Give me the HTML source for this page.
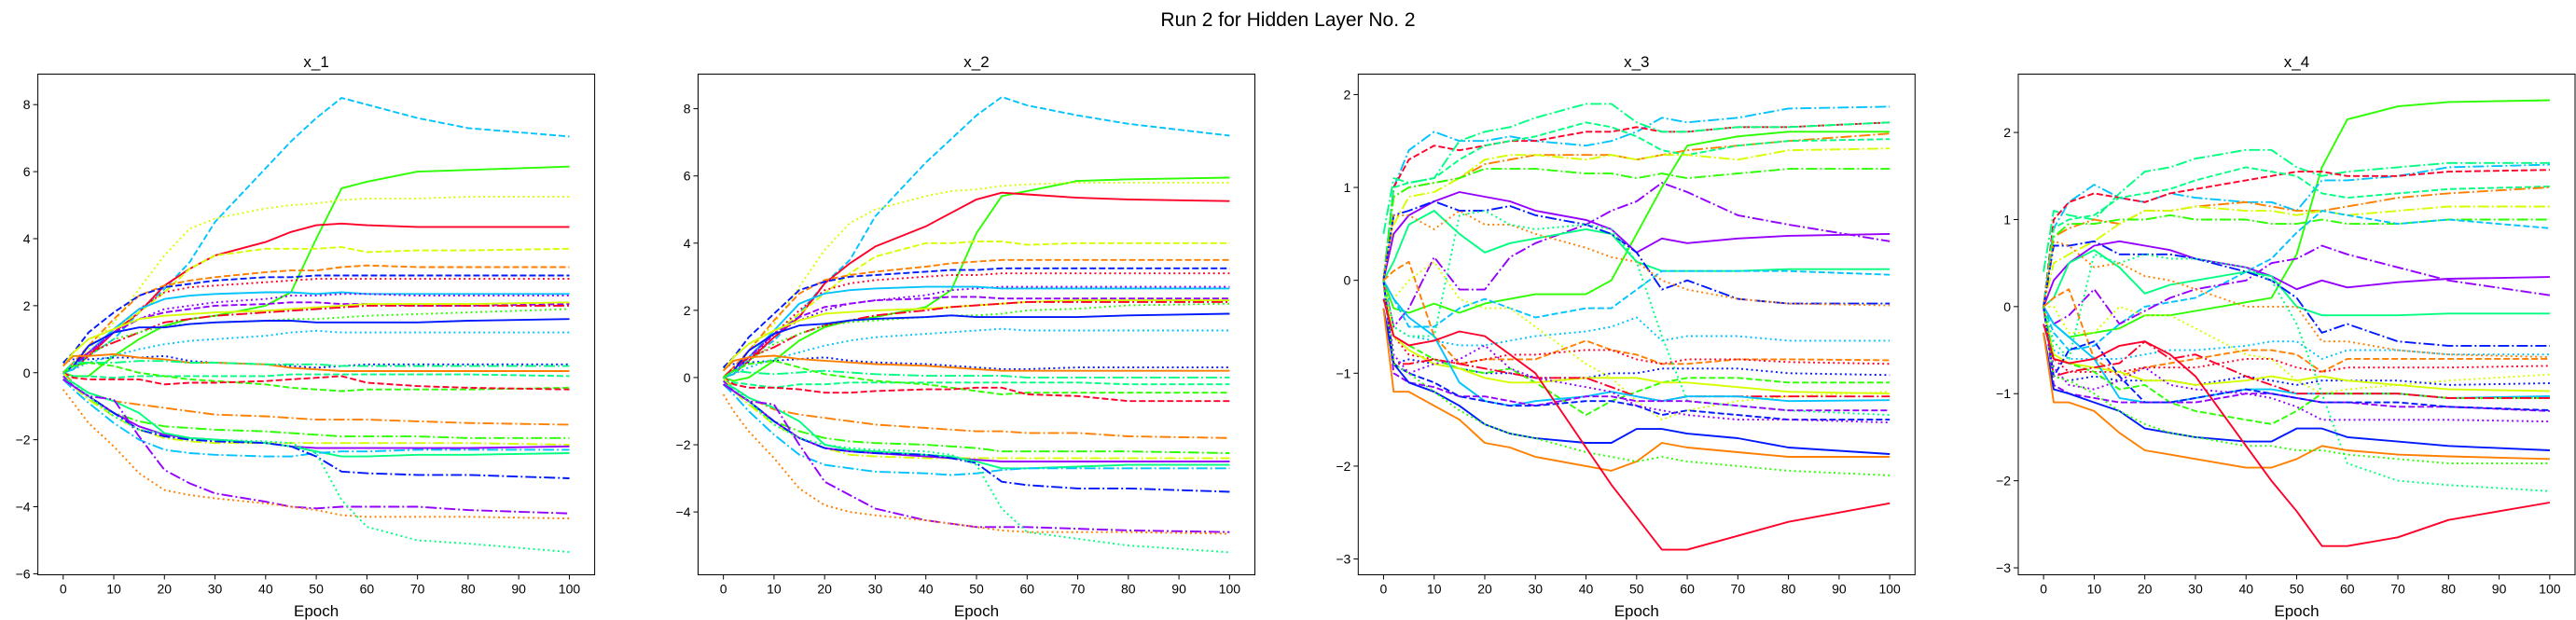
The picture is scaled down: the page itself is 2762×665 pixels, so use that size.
<!DOCTYPE html>
<html><head><meta charset="utf-8"><style>
html,body{margin:0;padding:0;background:#fff;}
svg{display:block;font-family:"Liberation Sans","DejaVu Sans",sans-serif;}
</style></head><body>
<svg id="fig" width="2762" height="665" viewBox="0 0 2762 665" xmlns="http://www.w3.org/2000/svg">
<rect width="2762" height="665" fill="#fff"/>
<text x="1381" y="28" font-size="21" text-anchor="middle" fill="#000">Run 2 for Hidden Layer No. 2</text>
</svg>
<script>
const epochs = [0,2,5,10,15,20,25,30,40,45,50,55,60,70,80,100];
const xTicks = [0,10,20,30,40,50,60,70,80,90,100];
const colorMap = {r:'#ff0029',o:'#ff7f00',y:'#d4ff00',g:'#2bff00',s:'#00ff80',c:'#00c3ff',b:'#0019ff',p:'#9500ff'};
const dashMap = {'-':'', '--':'7,3', ':':'2,3.3', '-.':'12,3,2,3'};
const titles = ['x_1','x_2','x_3','x_4'];
const yTicks1 = [-6,-4,-2,0,2,4,6,8];
const yTicks2 = [-4,-2,0,2,4,6,8];
const yTicks3 = [-3,-2,-1,0,1,2];
const yTicks4 = [-3,-2,-1,0,1,2];
const yLims = [[-6.03,8.91],[-5.87,9.03],[-3.17,2.22],[-3.08,2.67]];

const series1 = [
['c','--',[0,0.3,0.5,1.0,1.8,2.5,3.3,4.5,6.1,6.9,7.6,8.2,8.0,7.6,7.3,7.05]],
['g','-',[0,-0.1,-0.1,0.5,1.0,1.4,1.6,1.7,2.0,2.4,4.0,5.5,5.7,6.0,6.05,6.15]],
['y',':',[0,0.3,0.7,1.5,2.5,3.5,4.3,4.6,4.9,5.0,5.05,5.15,5.2,5.2,5.25,5.25]],
['r','-',[0,0.1,0.5,1.2,1.8,2.6,3.1,3.5,3.9,4.2,4.4,4.45,4.4,4.35,4.35,4.35]],
['y','--',[0,0.2,0.6,1.3,1.8,2.4,3.1,3.5,3.7,3.7,3.7,3.75,3.6,3.65,3.65,3.7]],
['o','--',[0,0.3,0.8,1.6,2.3,2.6,2.75,2.85,3.0,3.05,3.05,3.15,3.2,3.15,3.15,3.15]],
['b','--',[0.3,0.6,1.2,1.8,2.3,2.55,2.65,2.75,2.85,2.85,2.9,2.9,2.9,2.9,2.9,2.9]],
['r',':',[0,0.2,0.5,1.3,1.9,2.4,2.55,2.6,2.7,2.75,2.8,2.8,2.8,2.8,2.8,2.8]],
['c','-',[0,0.1,0.6,1.3,1.9,2.2,2.3,2.35,2.4,2.4,2.35,2.4,2.35,2.35,2.35,2.35]],
['p',':',[0,0.2,0.6,1.2,1.6,1.9,2.0,2.1,2.2,2.3,2.3,2.35,2.35,2.3,2.3,2.3]],
['p','--',[0,0.2,0.6,1.2,1.6,1.8,1.9,2.0,2.05,2.1,2.1,2.05,2.05,2.0,2.0,2.05]],
['y','-',[0.2,0.6,1.0,1.3,1.6,1.7,1.75,1.8,1.85,1.9,1.95,2.0,2.05,2.05,2.05,2.1]],
['r','-.',[0,0.3,0.6,0.9,1.2,1.5,1.6,1.7,1.8,1.85,1.9,1.95,2.0,2.0,2.0,2.0]],
['g',':',[0,0.1,0.5,1.0,1.2,1.4,1.45,1.5,1.55,1.6,1.6,1.65,1.7,1.75,1.8,1.9]],
['b','-',[0,0.2,0.8,1.2,1.35,1.35,1.45,1.5,1.55,1.55,1.5,1.5,1.5,1.5,1.55,1.6]],
['c',':',[0,0.1,0.3,0.5,0.7,0.85,0.95,1.0,1.1,1.2,1.25,1.2,1.2,1.2,1.2,1.2]],
['b',':',[0.3,0.4,0.4,0.45,0.45,0.5,0.35,0.3,0.25,0.2,0.15,0.2,0.25,0.25,0.25,0.25]],
['o','-',[0.2,0.5,0.5,0.55,0.45,0.4,0.3,0.3,0.25,0.15,0.1,0.05,0.05,0.05,0.05,0.05]],
['s','-.',[0,0.3,0.3,0.3,0.35,0.35,0.3,0.3,0.25,0.25,0.25,0.2,0.2,0.2,0.2,0.2]],
['s','--',[0,-0.1,-0.1,-0.15,-0.1,-0.1,-0.1,-0.1,-0.1,-0.05,-0.05,-0.05,-0.05,-0.05,-0.05,-0.1]],
['g','--',[0,0.2,0.3,0.2,0.0,-0.1,-0.2,-0.25,-0.35,-0.45,-0.5,-0.55,-0.5,-0.5,-0.5,-0.45]],
['r','--',[0,-0.15,-0.2,-0.2,-0.2,-0.35,-0.3,-0.3,-0.25,-0.2,-0.15,-0.1,-0.3,-0.4,-0.45,-0.5]],
['o','-.',[0,-0.3,-0.6,-0.85,-0.95,-1.05,-1.15,-1.25,-1.3,-1.35,-1.4,-1.4,-1.4,-1.45,-1.5,-1.55]],
['g','-.',[0,-0.4,-0.8,-1.2,-1.45,-1.6,-1.65,-1.7,-1.75,-1.8,-1.85,-1.9,-1.9,-1.9,-1.95,-1.95]],
['y','-.',[0,-0.4,-0.8,-1.3,-1.7,-1.95,-2.05,-2.1,-2.1,-2.1,-2.1,-2.1,-2.1,-2.1,-2.1,-2.15]],
['p','-',[-0.1,-0.4,-0.7,-1.2,-1.6,-1.85,-1.95,-2.0,-2.1,-2.2,-2.25,-2.25,-2.25,-2.25,-2.25,-2.2]],
['s','-',[-0.2,-0.3,-0.6,-0.85,-1.2,-1.8,-1.95,-2.0,-2.1,-2.2,-2.35,-2.5,-2.5,-2.45,-2.45,-2.4]],
['c','-.',[-0.2,-0.5,-0.9,-1.5,-2.0,-2.3,-2.4,-2.45,-2.5,-2.5,-2.4,-2.35,-2.35,-2.3,-2.3,-2.3]],
['b','-.',[-0.2,-0.4,-0.7,-1.2,-1.7,-1.9,-2.0,-2.05,-2.1,-2.2,-2.5,-2.95,-3.0,-3.05,-3.05,-3.15]],
['p','-.',[-0.2,-0.4,-0.7,-0.8,-1.9,-2.9,-3.3,-3.6,-3.85,-4.0,-4.05,-4.0,-4.0,-4.0,-4.1,-4.2]],
['o',':',[-0.5,-0.9,-1.5,-2.2,-3.0,-3.5,-3.65,-3.75,-3.9,-4.0,-4.1,-4.25,-4.3,-4.3,-4.3,-4.35]],
['s',':',[0,-0.3,-0.7,-1.3,-1.7,-1.8,-1.95,-2.0,-2.05,-2.1,-2.4,-3.8,-4.6,-5.0,-5.1,-5.35]]
];
const series2 = [
['c','--',[0,0.3,0.6,1.1,1.9,2.8,3.5,4.8,6.4,7.1,7.8,8.35,8.1,7.8,7.55,7.2]],
['g','-',[0,-0.1,0.0,0.5,1.1,1.5,1.7,1.8,2.1,2.6,4.3,5.4,5.55,5.85,5.9,5.95]],
['y',':',[0,0.3,0.8,1.6,2.7,3.8,4.6,5.0,5.4,5.55,5.6,5.7,5.75,5.8,5.8,5.8]],
['r','-',[0,0.1,0.5,1.2,1.8,2.8,3.4,3.9,4.5,4.9,5.3,5.5,5.45,5.35,5.3,5.25]],
['y','--',[0,0.2,0.6,1.3,1.9,2.5,3.1,3.6,4.0,4.0,4.05,4.05,3.95,4.0,4.0,4.0]],
['o','--',[0,0.3,0.8,1.7,2.5,2.9,3.05,3.15,3.3,3.4,3.45,3.5,3.5,3.5,3.5,3.5]],
['b','--',[0.3,0.6,1.2,1.9,2.6,2.85,3.0,3.05,3.15,3.2,3.2,3.25,3.25,3.25,3.25,3.25]],
['r',':',[0,0.2,0.5,1.3,2.0,2.6,2.8,2.9,3.0,3.05,3.05,3.1,3.1,3.1,3.1,3.1]],
['p',':',[0,0.2,0.6,1.3,1.7,2.0,2.2,2.3,2.45,2.6,2.65,2.7,2.7,2.7,2.7,2.7]],
['c','-',[0,0.1,0.6,1.4,2.2,2.5,2.6,2.65,2.7,2.7,2.7,2.65,2.65,2.65,2.65,2.65]],
['p','--',[0,0.2,0.6,1.3,1.8,2.1,2.2,2.3,2.35,2.4,2.4,2.35,2.35,2.35,2.35,2.35]],
['y','-',[0.2,0.6,1.0,1.4,1.7,1.9,1.95,2.0,2.05,2.1,2.15,2.2,2.25,2.3,2.3,2.3]],
['r','-.',[0,0.3,0.6,0.9,1.3,1.55,1.7,1.85,2.0,2.1,2.15,2.2,2.25,2.25,2.25,2.25]],
['g',':',[0,0.1,0.5,1.0,1.3,1.55,1.65,1.7,1.8,1.85,1.85,1.9,2.0,2.05,2.15,2.2]],
['b','-',[0,0.2,0.8,1.3,1.55,1.6,1.7,1.75,1.8,1.85,1.8,1.8,1.8,1.8,1.85,1.9]],
['c',':',[0,0.1,0.3,0.55,0.75,0.95,1.1,1.2,1.3,1.35,1.4,1.45,1.4,1.4,1.4,1.4]],
['b',':',[0.3,0.4,0.45,0.5,0.55,0.6,0.5,0.45,0.4,0.35,0.3,0.25,0.25,0.3,0.3,0.3]],
['o','-',[0.2,0.5,0.6,0.65,0.55,0.5,0.45,0.4,0.35,0.3,0.25,0.2,0.2,0.2,0.2,0.2]],
['s','-.',[0,0.2,0.15,0.1,0.15,0.2,0.15,0.1,0.05,0.05,0.05,0.05,0.0,0.0,0.0,0.0]],
['s','--',[0,-0.15,-0.2,-0.3,-0.2,-0.2,-0.15,-0.15,-0.15,-0.15,-0.15,-0.15,-0.15,-0.15,-0.2,-0.2]],
['g','--',[0,0.2,0.4,0.5,0.3,0.1,0.0,-0.1,-0.2,-0.3,-0.4,-0.5,-0.45,-0.45,-0.45,-0.45]],
['r','--',[0,-0.2,-0.3,-0.3,-0.35,-0.45,-0.45,-0.4,-0.35,-0.35,-0.3,-0.3,-0.5,-0.55,-0.7,-0.7]],
['o','-.',[0,-0.3,-0.6,-0.95,-1.1,-1.2,-1.3,-1.4,-1.5,-1.55,-1.6,-1.6,-1.65,-1.65,-1.75,-1.8]],
['g','-.',[0,-0.4,-0.8,-1.3,-1.6,-1.8,-1.9,-1.95,-2.0,-2.05,-2.1,-2.2,-2.2,-2.2,-2.2,-2.25]],
['y','-.',[0,-0.4,-0.8,-1.4,-1.8,-2.1,-2.3,-2.35,-2.4,-2.4,-2.4,-2.4,-2.4,-2.4,-2.4,-2.4]],
['p','-',[-0.1,-0.4,-0.7,-1.3,-1.8,-2.1,-2.2,-2.25,-2.35,-2.4,-2.45,-2.5,-2.5,-2.5,-2.5,-2.5]],
['s','-',[-0.2,-0.3,-0.6,-0.9,-1.3,-2.0,-2.15,-2.2,-2.3,-2.35,-2.5,-2.7,-2.7,-2.65,-2.6,-2.6]],
['c','-.',[-0.2,-0.5,-1.0,-1.7,-2.3,-2.6,-2.7,-2.8,-2.85,-2.9,-2.85,-2.75,-2.7,-2.7,-2.7,-2.7]],
['b','-.',[-0.2,-0.4,-0.7,-1.3,-1.8,-2.1,-2.2,-2.25,-2.3,-2.4,-2.55,-3.1,-3.2,-3.3,-3.3,-3.4]],
['p','-.',[-0.2,-0.4,-0.7,-0.8,-2.0,-3.1,-3.5,-3.9,-4.25,-4.35,-4.45,-4.45,-4.45,-4.5,-4.55,-4.6]],
['o',':',[-0.5,-1.0,-1.6,-2.4,-3.3,-3.8,-4.0,-4.1,-4.25,-4.35,-4.45,-4.55,-4.6,-4.6,-4.6,-4.65]],
['s',':',[0,-0.3,-0.7,-1.4,-1.8,-2.0,-2.1,-2.15,-2.2,-2.3,-2.6,-3.9,-4.6,-4.8,-5.0,-5.2]]
];
const series3 = [
['c','-.',[0,1.0,1.4,1.6,1.5,1.5,1.55,1.5,1.45,1.5,1.6,1.75,1.7,1.75,1.85,1.87]],
['r','--',[0,1.0,1.3,1.45,1.4,1.45,1.5,1.5,1.6,1.6,1.65,1.6,1.6,1.65,1.65,1.7]],
['s','-.',[0.5,1.1,1.05,1.1,1.5,1.6,1.65,1.75,1.9,1.9,1.7,1.6,1.6,1.65,1.65,1.7]],
['g','-',[0,-0.3,-0.35,-0.25,-0.35,-0.25,-0.2,-0.15,-0.15,0.0,0.5,1.0,1.45,1.55,1.6,1.6]],
['o','-.',[0,0.9,1.0,1.05,1.1,1.25,1.3,1.35,1.35,1.35,1.3,1.35,1.4,1.45,1.5,1.58]],
['s','--',[0,1.0,1.05,1.1,1.3,1.45,1.5,1.55,1.7,1.65,1.55,1.4,1.35,1.45,1.5,1.52]],
['y','-.',[0,0.6,0.9,0.95,1.1,1.3,1.35,1.35,1.3,1.35,1.3,1.35,1.35,1.3,1.4,1.42]],
['g','-.',[0,0.9,1.0,1.05,1.1,1.2,1.2,1.2,1.15,1.15,1.1,1.15,1.1,1.15,1.2,1.2]],
['p','-.',[0,-0.5,-0.3,0.25,-0.1,-0.1,0.25,0.4,0.6,0.75,0.85,1.05,0.95,0.7,0.6,0.42]],
['p','-',[0,0.5,0.7,0.85,0.95,0.9,0.85,0.75,0.65,0.55,0.3,0.45,0.4,0.45,0.48,0.5]],
['s','-',[0,0.2,0.6,0.75,0.5,0.3,0.4,0.45,0.55,0.5,0.2,0.1,0.1,0.1,0.12,0.12]],
['c','--',[-0.2,-0.2,-0.5,-0.5,-0.3,-0.2,-0.3,-0.4,-0.3,-0.3,-0.1,0.1,0.1,0.1,0.1,0.06]],
['b','-.',[0,0.7,0.75,0.85,0.75,0.75,0.8,0.7,0.6,0.5,0.3,-0.1,0.0,-0.2,-0.25,-0.25]],
['o',':',[0,0.7,0.7,0.55,0.75,0.6,0.6,0.5,0.35,0.25,0.2,0.0,-0.1,-0.2,-0.25,-0.27]],
['c',':',[0,-0.5,-0.6,-0.65,-0.7,-0.7,-0.65,-0.6,-0.55,-0.5,-0.4,-0.65,-0.6,-0.6,-0.65,-0.65]],
['o','--',[0,0.1,0.2,-0.6,-0.9,-0.85,-0.85,-0.85,-0.65,-0.75,-0.8,-0.9,-0.9,-0.85,-0.85,-0.86]],
['r',':',[0,-0.6,-0.8,-0.85,-0.9,-0.85,-0.8,-0.8,-0.75,-0.75,-0.85,-0.9,-0.85,-0.85,-0.88,-0.9]],
['b',':',[0,-0.9,-0.85,-0.9,-0.95,-1.0,-1.0,-1.05,-1.05,-1.0,-1.0,-0.95,-0.95,-0.95,-1.0,-1.02]],
['g','--',[0,-0.6,-0.7,-0.85,-0.95,-1.0,-0.95,-1.1,-1.45,-1.3,-1.2,-1.1,-1.05,-1.05,-1.1,-1.1]],
['y','-',[0,-0.6,-0.75,-0.9,-0.95,-1.05,-1.1,-1.1,-1.05,-1.05,-1.05,-1.1,-1.1,-1.15,-1.2,-1.22]],
['y',':',[0,-0.2,0.0,0.2,-0.2,-0.3,-0.3,-0.5,-0.9,-1.05,-1.3,-1.5,-1.4,-1.3,-1.25,-1.2]],
['r','-.',[0,-0.9,-0.9,-0.85,-0.9,-0.95,-1.0,-1.05,-1.05,-1.15,-1.25,-1.3,-1.25,-1.25,-1.25,-1.25]],
['c','-',[0,-0.2,-0.4,-0.6,-1.1,-1.3,-1.35,-1.3,-1.25,-1.2,-1.25,-1.3,-1.25,-1.25,-1.3,-1.29]],
['s',':',[0,-0.5,-0.6,-0.6,0.7,0.75,0.6,0.55,0.6,0.55,0.2,-0.6,-1.3,-1.35,-1.4,-1.45]],
['p','--',[0,-1.0,-1.1,-1.15,-1.25,-1.25,-1.3,-1.35,-1.25,-1.25,-1.3,-1.3,-1.3,-1.35,-1.4,-1.4]],
['b','--',[0,-0.9,-1.0,-1.1,-1.25,-1.3,-1.35,-1.35,-1.3,-1.3,-1.35,-1.45,-1.4,-1.45,-1.5,-1.5]],
['p',':',[0,-0.8,-1.0,-0.9,-0.85,-0.7,-0.95,-1.05,-1.15,-1.2,-1.35,-1.4,-1.45,-1.5,-1.5,-1.53]],
['b','-',[-0.3,-0.9,-1.1,-1.2,-1.35,-1.55,-1.65,-1.7,-1.75,-1.75,-1.6,-1.6,-1.65,-1.7,-1.8,-1.87]],
['o','-',[-0.3,-1.2,-1.2,-1.35,-1.5,-1.75,-1.8,-1.9,-2.0,-2.05,-1.95,-1.75,-1.8,-1.85,-1.9,-1.9]],
['g',':',[0,-0.9,-1.0,-1.2,-1.4,-1.55,-1.65,-1.7,-1.85,-1.9,-1.95,-1.9,-1.95,-2.0,-2.05,-2.1]],
['r','-',[-0.2,-0.6,-0.7,-0.65,-0.55,-0.6,-0.8,-1.0,-1.8,-2.2,-2.55,-2.9,-2.9,-2.75,-2.6,-2.4]]
];
const series4 = [
['g','-',[0,-0.2,-0.35,-0.3,-0.25,-0.1,-0.1,-0.05,0.05,0.1,0.6,1.6,2.15,2.3,2.35,2.37]],
['s','-.',[0.4,1.1,1.05,1.0,1.3,1.55,1.6,1.7,1.8,1.8,1.6,1.5,1.55,1.6,1.65,1.65]],
['c','-.',[0,0.9,1.2,1.4,1.25,1.2,1.3,1.25,1.2,1.2,1.1,1.45,1.45,1.5,1.6,1.63]],
['r','--',[0,1.0,1.2,1.3,1.25,1.2,1.3,1.35,1.45,1.5,1.55,1.55,1.5,1.5,1.55,1.57]],
['s','--',[0,0.9,1.0,1.05,1.25,1.3,1.35,1.45,1.6,1.55,1.5,1.3,1.25,1.3,1.35,1.38]],
['o','-.',[0,0.8,0.9,1.0,0.95,1.1,1.1,1.15,1.2,1.15,1.1,1.1,1.15,1.25,1.3,1.37]],
['y','-.',[0,0.5,0.6,0.75,0.95,1.1,1.1,1.15,1.1,1.1,1.05,1.1,1.05,1.1,1.15,1.15]],
['g','-.',[0,0.8,0.95,0.95,1.0,1.0,1.05,1.0,1.0,0.95,0.95,1.0,0.95,0.95,1.0,1.0]],
['c','--',[0,-0.3,-0.5,-0.45,-0.2,0.0,0.05,0.1,0.4,0.55,0.85,1.1,1.05,0.95,1.0,0.9]],
['p','-.',[0,-0.2,-0.1,0.2,-0.2,-0.05,0.1,0.2,0.3,0.5,0.55,0.7,0.6,0.45,0.3,0.13]],
['p','-',[0,0.3,0.5,0.7,0.75,0.7,0.65,0.55,0.45,0.35,0.2,0.3,0.22,0.28,0.32,0.34]],
['s','-',[0,0.1,0.5,0.65,0.45,0.15,0.25,0.3,0.4,0.35,0.0,-0.1,-0.1,-0.1,-0.08,-0.08]],
['b','-.',[0,0.7,0.7,0.75,0.6,0.6,0.6,0.55,0.4,0.3,0.1,-0.3,-0.2,-0.4,-0.45,-0.45]],
['o',':',[0,0.75,0.7,0.45,0.5,0.35,0.3,0.2,0.0,0.0,0.0,-0.4,-0.4,-0.5,-0.55,-0.58]],
['c',':',[0,-0.5,-0.6,-0.6,-0.6,-0.55,-0.5,-0.5,-0.45,-0.4,-0.4,-0.6,-0.5,-0.5,-0.55,-0.55]],
['o','--',[0,0.1,0.2,-0.6,-0.8,-0.7,-0.65,-0.6,-0.5,-0.5,-0.55,-0.75,-0.6,-0.6,-0.6,-0.6]],
['r',':',[0,-0.6,-0.75,-0.75,-0.75,-0.7,-0.7,-0.7,-0.6,-0.6,-0.7,-0.75,-0.7,-0.7,-0.7,-0.68]],
['y',':',[0,0.0,-0.3,-0.3,0.0,-0.1,-0.1,-0.25,-0.55,-0.6,-0.85,-1.0,-0.95,-0.9,-0.85,-0.78]],
['b',':',[0,-0.8,-0.85,-0.8,-0.85,-0.85,-0.85,-0.9,-0.8,-0.85,-0.9,-0.85,-0.85,-0.85,-0.9,-0.88]],
['y','-',[0,-0.55,-0.65,-0.7,-0.75,-0.85,-0.85,-0.9,-0.85,-0.8,-0.85,-0.8,-0.85,-0.9,-0.95,-0.97]],
['c','-',[0,-0.2,-0.35,-0.6,-1.05,-1.1,-1.1,-1.05,-0.95,-0.95,-1.0,-1.0,-1.0,-1.0,-1.05,-1.03]],
['g','--',[0,-0.6,-0.65,-0.75,-0.95,-0.9,-1.1,-1.2,-1.3,-1.35,-1.2,-1.0,-1.0,-1.0,-1.05,-1.05]],
['r','-.',[0,-0.8,-0.75,-0.7,-0.65,-0.4,-0.6,-0.55,-0.8,-0.9,-1.0,-1.0,-1.0,-1.0,-1.05,-1.05]],
['s',':',[0,-0.4,-0.6,0.6,0.5,0.6,0.55,0.55,0.45,0.3,-0.2,-1.0,-1.8,-2.0,-2.05,-2.12]],
['p','--',[0,-0.9,-1.0,-1.05,-1.1,-1.1,-1.1,-1.1,-1.0,-1.0,-1.05,-1.1,-1.1,-1.15,-1.15,-1.2]],
['b','--',[0,-0.8,-0.5,-0.4,-0.8,-1.1,-1.1,-1.05,-0.95,-1.0,-1.05,-1.1,-1.1,-1.1,-1.15,-1.19]],
['p',':',[0,-0.7,-0.9,-0.95,-0.85,-0.7,-0.9,-0.95,-1.0,-1.05,-1.15,-1.3,-1.3,-1.3,-1.3,-1.32]],
['b','-',[-0.3,-0.95,-1.0,-1.1,-1.2,-1.4,-1.45,-1.5,-1.55,-1.55,-1.4,-1.4,-1.5,-1.55,-1.6,-1.65]],
['o','-',[-0.3,-1.1,-1.1,-1.2,-1.45,-1.65,-1.7,-1.75,-1.85,-1.85,-1.75,-1.6,-1.65,-1.7,-1.72,-1.75]],
['g',':',[0,-0.8,-0.85,-1.0,-1.2,-1.35,-1.45,-1.5,-1.6,-1.6,-1.65,-1.65,-1.7,-1.75,-1.8,-1.8]],
['r','-',[-0.2,-0.6,-0.65,-0.6,-0.45,-0.4,-0.55,-0.8,-1.6,-2.0,-2.35,-2.75,-2.75,-2.65,-2.45,-2.25]]
];

const NS = 'http://www.w3.org/2000/svg';
const svg = document.getElementById('fig');
const frameLefts = [40.6, 748.5, 1456.3, 2164];
const frameW = 597, frameTop = 79.5, frameBottom = 616.5;
const allSeries = [series1, series2, series3, series4];
const allYTicks = [yTicks1, yTicks2, yTicks3, yTicks4];

function mk(tag, attrs, parent) {
  const el = document.createElementNS(NS, tag);
  for (const k in attrs) el.setAttribute(k, attrs[k]);
  parent.appendChild(el);
  return el;
}

for (let p = 0; p < 4; p++) {
  const L = frameLefts[p];
  const [ymin, ymax] = yLims[p];
  const xs = v => L + (v + 5) / 110 * frameW;
  const ys = v => frameBottom - (v - ymin) / (ymax - ymin) * (frameBottom - frameTop);

  const g = mk('g', {}, svg);
  
  

  const clipId = 'clip' + p;
  const cp = mk('clipPath', {id: clipId}, g);
  mk('rect', {x: L, y: frameTop, width: frameW, height: frameBottom - frameTop}, cp);

  const lines = mk('g', {'clip-path': 'url(#' + clipId + ')'}, g);
  
  
  allSeries[p].forEach((s, i) => {
    const pts = s[2].map((v, j) => xs(epochs[j]).toFixed(1) + ',' + ys(v).toFixed(1)).join(' ');
    const pl = mk('polyline', {points: pts, fill: 'none', stroke: colorMap[s[0]], 'stroke-width': 1.9, 'stroke-linejoin': 'round'}, lines);
    if (dashMap[s[1]]) pl.setAttribute('stroke-dasharray', dashMap[s[1]]);
    
    
  });

  const fr = mk('rect', {x: L, y: frameTop, width: frameW, height: frameBottom - frameTop, fill: 'none', stroke: '#000', 'stroke-width': 1}, g);
  
  

  xTicks.forEach(t => {
    const x = xs(t);
    mk('line', {x1: x, x2: x, y1: frameBottom, y2: frameBottom + 5, stroke: '#000', 'stroke-width': 1}, g);
    const tx = mk('text', {x: x, y: frameBottom + 20, 'font-size': 14, 'text-anchor': 'middle', fill: '#000'}, g);
    tx.textContent = t;
    
    
  });
  allYTicks[p].forEach(t => {
    const y = ys(t);
    mk('line', {x1: L - 5, x2: L, y1: y, y2: y, stroke: '#000', 'stroke-width': 1}, g);
    const tx = mk('text', {x: L - 8, y: y + 5, 'font-size': 14, 'text-anchor': 'end', fill: '#000'}, g);
    tx.textContent = t < 0 ? '\u2212' + Math.abs(t) : String(t);
    
    
  });

  const tt = mk('text', {x: L + frameW / 2, y: 72, 'font-size': 17, 'text-anchor': 'middle', fill: '#000'}, g);
  tt.textContent = titles[p];
  
  

  const xl = mk('text', {x: L + frameW / 2, y: 661, 'font-size': 17, 'text-anchor': 'middle', fill: '#000'}, g);
  xl.textContent = 'Epoch';
  
  
}
</script>
</body></html>
